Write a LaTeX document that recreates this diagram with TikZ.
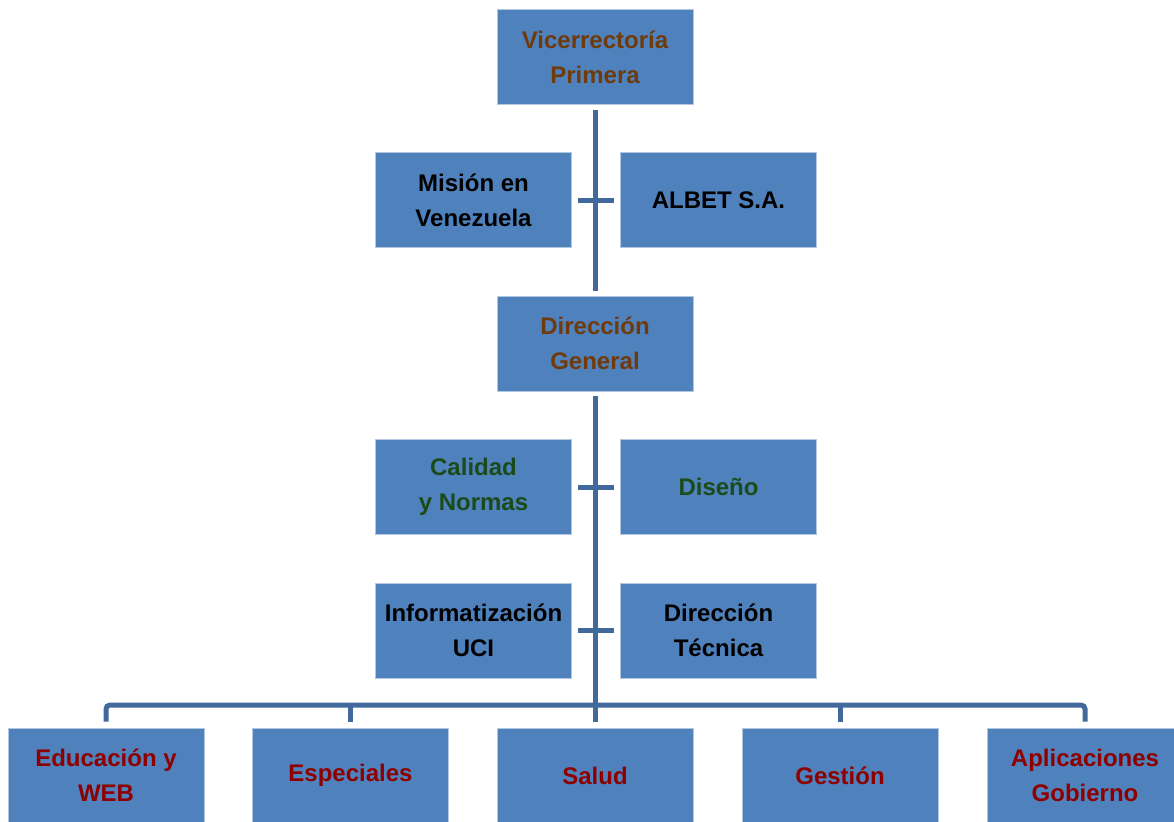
\documentclass[tikz,border=0pt]{standalone}
\usepackage{fontspec}
\setmainfont{Liberation Sans}
\definecolor{boxblue}{HTML}{4F81BD}
\definecolor{linkblue}{HTML}{41699C}
\definecolor{brownish}{HTML}{6F3A0C}
\definecolor{greenish}{HTML}{1B4B1B}
\definecolor{reddish}{HTML}{8E0000}
\tikzset{
  unit/.style={fill=boxblue, draw=boxblue!45!white, line width=0.8pt,
    minimum width=196pt, minimum height=95pt, inner sep=0pt, align=center,
    font=\fontsize{24}{35}\selectfont\bfseries},
  link/.style={draw=linkblue, line width=5pt},
}

\begin{document}
\begin{tikzpicture}[x=1pt,y=-1pt]
\useasboundingbox (0,0) rectangle (1174,821);
\clip (0,0) rectangle (1174,821);
% upper part
\node[unit,text=brownish] (vice) at (595,57) {Vicerrectoría\\Primera};
\node[unit] (mision) at (473.5,200) {Misión en\\Venezuela};
\node[unit] (albet) at (718.5,200) {ALBET S.A.};
\node[unit,text=brownish] (dg) at (595,343.5) {Dirección\\General};
\node[unit,text=greenish] (calidad) at (473.5,487) {Calidad\\y Normas};
\node[unit,text=greenish] (diseno) at (718.5,487) {Diseño};
\node[unit] (informa) at (473.5,630.5) {Informatización\\UCI};
\node[unit] (dtecnica) at (718.5,630.5) {Dirección\\Técnica};
% bottom row
\node[unit,text=reddish] (edu) at (106,775.5) {Educación y\\WEB};
\node[unit,text=reddish] (esp) at (350.5,775.5) {Especiales};
\node[unit,text=reddish] (salud) at (595,775.5) {Salud};
\node[unit,text=reddish] (gestion) at (840,775.5) {Gestión};
\node[unit,text=reddish] (apl) at (1085,775.5) {Aplicaciones\\Gobierno};
\coordinate (bar) at (595,705);
% connectors
\draw[link,shorten <=5pt,shorten >=5pt] (vice.south) -- (dg.north);
\draw[link,shorten <=6pt,shorten >=6pt] (mision.east) -- (albet.west);
\draw[link,shorten <=6pt,shorten >=6pt] (calidad.east) -- (diseno.west);
\draw[link,shorten <=6pt,shorten >=6pt] (informa.east) -- (dtecnica.west);
\draw[link,shorten <=5pt] (dg.south) -- ([yshift=6pt]salud.north);
\draw[link,rounded corners=4pt] ([yshift=6pt]edu.north) |- (apl.north |- bar) -- ([yshift=6pt]apl.north);
\foreach \n in {esp,gestion} {\draw[link] (\n.north |- bar) -- ([yshift=6pt]\n.north);}
\end{tikzpicture}
\end{document}
